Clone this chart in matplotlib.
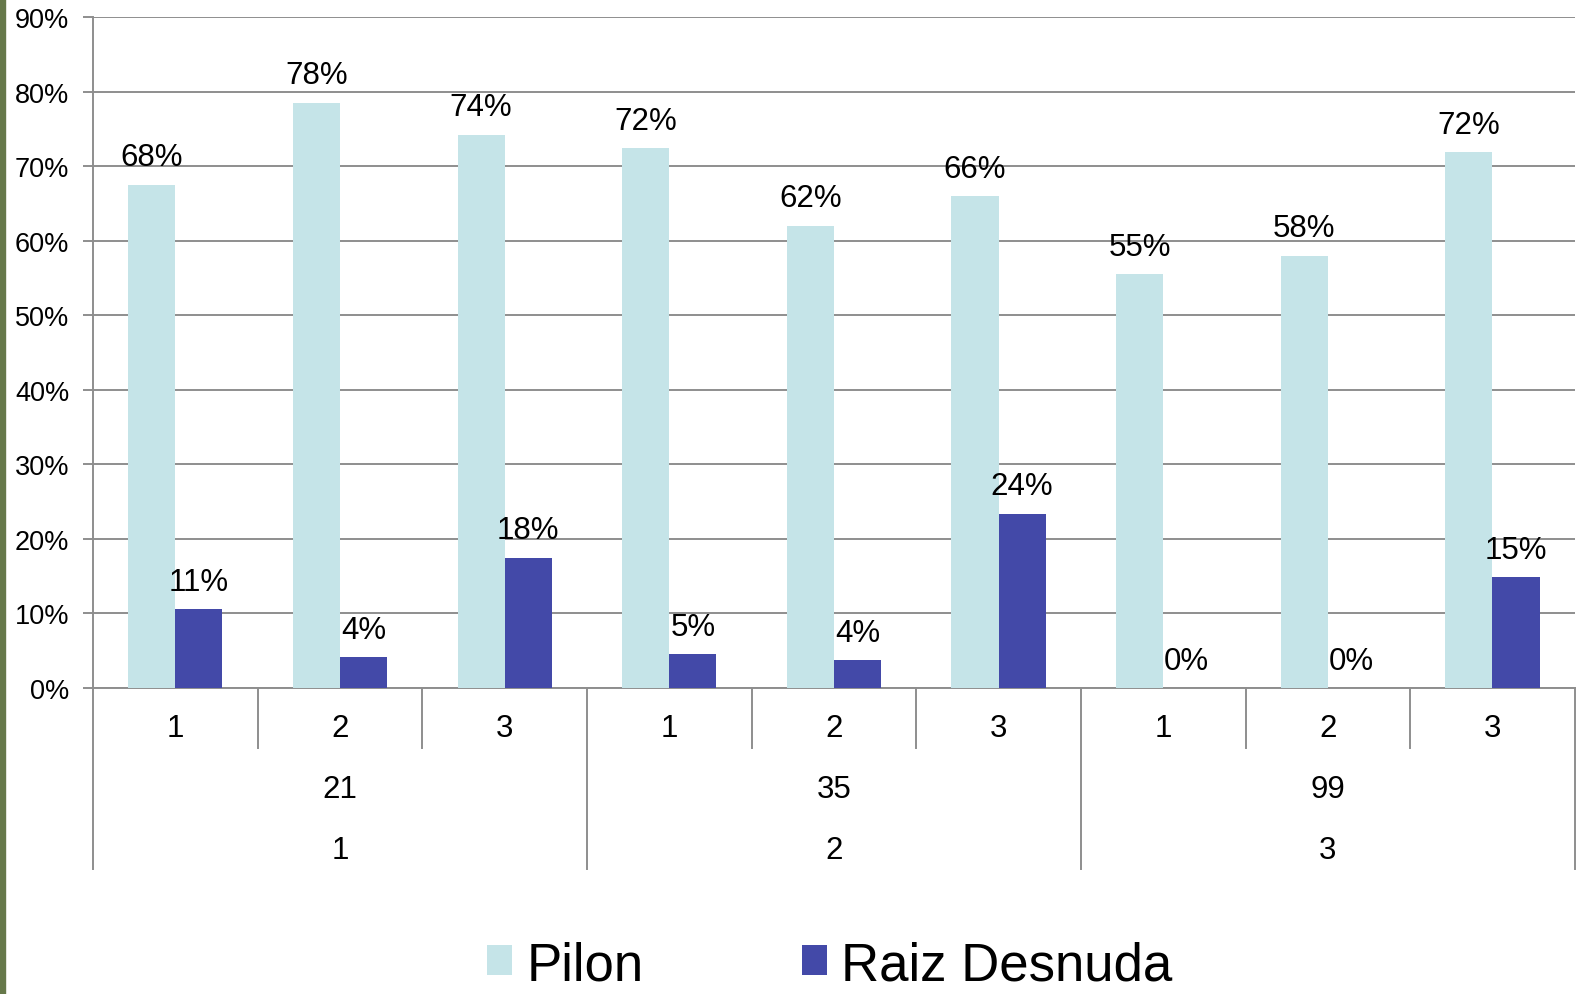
import matplotlib.pyplot as plt
import matplotlib.transforms as mtransforms
from matplotlib.lines import Line2D
from matplotlib.patches import Rectangle
from matplotlib.ticker import PercentFormatter
import numpy as np

plt.rcParams['font.family'] = ['Liberation Sans', 'DejaVu Sans']

# Data
level1 = ["1", "2", "3", "1", "2", "3", "1", "2", "3"]
level2 = ["21", "35", "99"]
level3 = ["1", "2", "3"]
pilon = [0.675, 0.785, 0.742, 0.724, 0.620, 0.660, 0.555, 0.580, 0.719]
raiz = [0.106, 0.041, 0.175, 0.045, 0.037, 0.234, 0.0, 0.0, 0.149]
pilon_labels = ["68%", "78%", "74%", "72%", "62%", "66%", "55%", "58%", "72%"]
raiz_labels = ["11%", "4%", "18%", "5%", "4%", "24%", "0%", "0%", "15%"]

c_pilon = "#C5E4E8"
c_raiz = "#4349A8"
grid_c = "#8e8e8e"

fig = plt.figure(figsize=(15.8, 9.95), dpi=100)
fig.patch.set_facecolor("white")
ax = fig.add_axes([0.0589, 0.3075, 0.9378, 0.6744])

x = np.arange(len(level1))
w = 0.286
b1 = ax.bar(x - w / 2, pilon, w, color=c_pilon, label="Pilon", zorder=3)
b2 = ax.bar(x + w / 2, raiz, w, color=c_raiz, label="Raiz Desnuda", zorder=3)

## Data labels
for rect, lab in zip(b1, pilon_labels):
    ax.annotate(lab, (rect.get_x() + rect.get_width() / 2, rect.get_height()),
                xytext=(0, 14), textcoords="offset points", ha="center",
                va="baseline", fontsize=22.5)
for rect, lab in zip(b2, raiz_labels):
    ax.annotate(lab, (rect.get_x() + rect.get_width() / 2, rect.get_height()),
                xytext=(0, 14), textcoords="offset points", ha="center",
                va="baseline", fontsize=22.5)

## Axes
ax.set_xlim(-0.5, len(level1) - 0.5)
ax.set_ylim(0, 0.9)
ax.set_yticks(np.arange(0, 0.91, 0.1))
ax.yaxis.set_major_formatter(PercentFormatter(1.0, decimals=0))
ax.tick_params(axis="y", labelsize=19.5, length=7, width=1.4, color=grid_c, pad=10)
ax.set_xticks([])
ax.grid(axis="y", color=grid_c, lw=1.4, zorder=0)
for s in ["top", "right"]:
    ax.spines[s].set_visible(False)
for s in ["left", "bottom"]:
    ax.spines[s].set_color(grid_c)
    ax.spines[s].set_linewidth(1.4)

## Multi-level category axis
tr = mtransforms.blended_transform_factory(ax.transData, fig.transFigure)
y0 = 1 - 689 / 995
y_short = 1 - 749 / 995
y_long = 1 - 870 / 995
for k in range(len(level1) + 1):
    y_end = y_long if k % 3 == 0 else y_short
    ax.add_line(Line2D([k - 0.5, k - 0.5], [y0, y_end], transform=tr,
                       color=grid_c, lw=1.4, clip_on=False))
for i, lab in enumerate(level1):
    ax.text(i, 1 - 729 / 995, lab, transform=tr, ha="center", va="center", fontsize=22.5)
for g, lab in enumerate(level2):
    ax.text(3 * g + 1, 1 - 790 / 995, lab, transform=tr, ha="center", va="center", fontsize=22.5)
for g, lab in enumerate(level3):
    ax.text(3 * g + 1, 1 - 851 / 995, lab, transform=tr, ha="center", va="center", fontsize=22.5)

## Legend
fig.legend(handles=[b1, b2], loc="center", bbox_to_anchor=(0.525, 0.029), ncol=2,
           frameon=False, fontsize=38, handlelength=0.48, handleheight=0.5,
           handletextpad=0.27, columnspacing=3.0)

## Left decorative strip
fig.add_artist(Rectangle((0, 0), 5 / 1580, 1, transform=fig.transFigure,
                         color="#66784a", zorder=5))

fig.savefig("out.png", dpi=100)
